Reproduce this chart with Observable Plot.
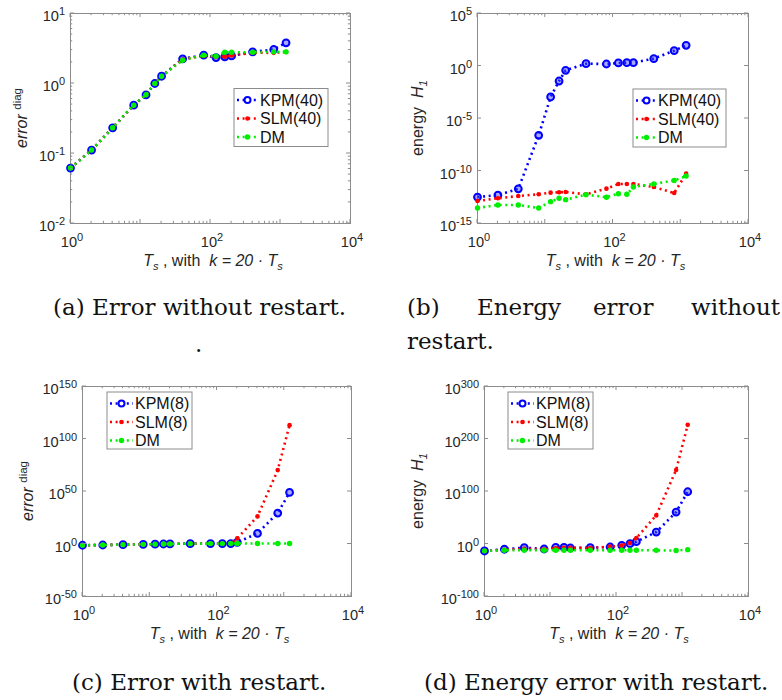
<!DOCTYPE html>
<html><head><meta charset="utf-8">
<script src="https://cdn.jsdelivr.net/npm/d3@7"></script>
<script src="https://cdn.jsdelivr.net/npm/@observablehq/plot@0.6"></script>
<style>
body{margin:0;background:#fff;}
#root{position:relative;width:782px;height:700px;overflow:hidden;background:#fff;}
#root svg{position:absolute;}
</style></head><body><div id="root"></div>
<script>
// ---- data ----
const Ts = [1, 2, 4, 8, 12, 16, 20, 40, 80, 120, 160, 200, 400, 800, 1200];

// (a) error^diag, no restart (values)
const kpmA = [0.062, 0.112, 0.233, 0.49, 0.69, 1.0, 1.27, 2.25, 2.54, 2.35, 2.4, 2.48, 2.83, 3.06, 3.81];
const slmA = [0.062, 0.112, 0.233, 0.49, 0.69, 1.0, 1.27, 2.2, 2.5, 2.4, 2.42, 2.52, 2.75, 2.74, 2.83];
const dmA  = [0.062, 0.112, 0.233, 0.49, 0.69, 1.0, 1.27, 2.15, 2.54, 2.46, 2.8, 2.8, 2.8, 2.83, 2.83];

// (b) energy H1, no restart (log10 of values)
const kpmB = [-12.48, -12.3, -11.7, -6.6, -2.95, -1.43, -0.41, 0.22, 0.19, 0.29, 0.32, 0.32, 0.70, 1.46, 1.97];
const slmB = [-12.86, -12.6, -12.38, -12.22, -12.06, -12.03, -12.0, -12.22, -11.68, -11.24, -11.24, -11.24, -11.52, -12.1, -10.25];
const dmB  = [-13.52, -13.24, -13.24, -13.52, -12.92, -12.6, -12.73, -12.25, -12.5, -12.16, -12.22, -11.52, -11.24, -10.9, -10.48];

// (c) error^diag, restart (log10 of values)
const kpmC = [-1.2, -0.95, -0.63, -0.31, -0.16, 0, 0.1, 0.35, 0.4, 0.37, 0.38, 1.6, 10.1, 29.5, 49.1];
const slmC = [-1.2, -0.95, -0.63, -0.31, -0.16, 0, 0.1, 0.35, 0.4, 0.4, 0.6, 5.4, 26.3, 70.4, 113.2];
const dmC  = [-1.2, -0.95, -0.63, -0.31, -0.16, 0, 0.1, 0.33, 0.4, 0.39, 0.45, 0.45, 0.45, 0.45, 0.45];

// (d) energy H1, restart (log10 of values)
const kpmD = [-13.3, -10, -7, -9.5, -6.3, -6.3, -7.6, -7, -5.7, -2.5, 0.6, 4.4, 22.8, 60.9, 99.5];
const slmD = [-13, -11, -9, -10, -8, -7, -7, -7.6, -5, -3, 2, 11.4, 54.5, 141, 227];
const dmD  = [-13, -12, -12, -12, -12, -12, -12, -12, -12, -12, -12, -12, -12, -12.5, -10.8];

const xTicks  = [1, 100, 10000];
const yTicksA = [1e-2, 1e-1, 1e0, 1e1];
const yTicksB = [1e-15, 1e-10, 1e-5, 1e0, 1e5];
const yTicksC = [1e-50, 1e0, 1e50, 1e100, 1e150];
const yTicksD = [1e-100, 1e0, 1e100, 1e200, 1e300];

const namesTop = ["KPM(40)", "SLM(40)", "DM"];
const namesBottom = ["KPM(8)", "SLM(8)", "DM"];

// ---- styles ----
const BLUE = "#0000ff", RED = "#ff0000", GREEN = "#00ee00";
const FRAME = "#8c8c8c", TXT = "#262626";
const styles = [
  {color: BLUE, r: 3.4, fill: "rgba(60,60,255,0.45)", stroke: BLUE, sw: 2},
  {color: RED, r: 2.3, fill: RED, stroke: "none", sw: 0},
  {color: GREEN, r: 2.7, fill: GREEN, stroke: "none", sw: 0}
];
const DASH = "2,3.6", LW = 2.6;

const pow = arr => arr.map(e => Math.pow(10, e));
const expo = d => String(Math.round(Math.log10(d)));

const root = document.getElementById("root");

function powLabel(sel, x, y, anchor, v) {
  const t = sel.append("text").attr("x", x).attr("y", y).attr("text-anchor", anchor)
    .attr("font-family", "Liberation Sans").attr("font-size", 14.6).attr("fill", TXT);
  t.append("tspan").text("10");
  t.append("tspan").attr("dy", -6).attr("font-size", 11).text(expo(v));
}

function build(spec) {
  const {left, top, w, h, ml, mr, mt, mb, yDomain, yTicks, values, names, yMinor, legend, ylab, xlabY} = spec;
  const marks = [Plot.frame({stroke: FRAME, strokeWidth: 1})];
  values.forEach((vals, k) => {
    const st = styles[k];
    const d = Ts.map((t, i) => ({t, v: vals[i]}));
    marks.push(Plot.line(d, {x: "t", y: "v", stroke: st.color, strokeWidth: LW, strokeDasharray: DASH, strokeLinecap: "butt"}));
    marks.push(Plot.dot(d, {x: "t", y: "v", r: st.r, fill: st.fill, stroke: st.stroke, strokeWidth: st.sw}));
  });
  const svg = Plot.plot({
    width: w, height: h, marginLeft: ml, marginRight: mr, marginTop: mt, marginBottom: mb,
    x: {type: "log", domain: [1, 1e4], axis: null},
    y: {type: "log", domain: yDomain, axis: null},
    style: {fontFamily: "Liberation Sans", color: TXT, background: "transparent", overflow: "visible"},
    marks
  });
  svg.style.left = left + "px";
  svg.style.top = top + "px";
  const sx = svg.scale("x"), sy = svg.scale("y");
  const S = d3.select(svg);
  const [xL, xR] = sx.range, [yB, yT] = sy.range;

  // tick labels (positions from Plot's scales)
  const lab = S.append("g");
  xTicks.forEach(v => powLabel(lab, sx.apply(v) + 2, yB + 24, "middle", v));
  yTicks.forEach(v => powLabel(lab, xL - 5, sy.apply(v) + 8, "end", v));

  // inward ticks
  const tg = S.append("g").attr("stroke", FRAME).attr("stroke-width", 1).attr("fill", "none");
  const xs = [];
  for (let e = 0; e < 4; e++) for (let k = 1; k < 10; k++) xs.push([k * Math.pow(10, e), k === 1]);
  xs.push([1e4, true]);
  for (const [v, major] of xs) {
    const X = sx.apply(v), L = major ? 4 : 2.2;
    tg.append("line").attr("x1", X).attr("x2", X).attr("y1", yB).attr("y2", yB - L);
    tg.append("line").attr("x1", X).attr("x2", X).attr("y1", yT).attr("y2", yT + L);
  }
  const ys = yTicks.map(v => [v, true]);
  if (yMinor) for (let e = -2; e < 1; e++) for (let k = 2; k < 10; k++) ys.push([k * Math.pow(10, e), false]);
  for (const [v, major] of ys) {
    const Y = sy.apply(v), L = major ? 4 : 2.2;
    tg.append("line").attr("y1", Y).attr("y2", Y).attr("x1", xL).attr("x2", xL + L);
    tg.append("line").attr("y1", Y).attr("y2", Y).attr("x1", xR).attr("x2", xR - L);
  }

  // x label
  const xl = S.append("text").attr("x", (xL + xR) / 2 + 3).attr("y", xlabY).attr("text-anchor", "middle")
    .attr("font-family", "Liberation Sans").attr("font-size", 16).attr("fill", TXT).style("white-space", "pre");
  xl.append("tspan").attr("font-style", "italic").text("T");
  xl.append("tspan").attr("font-style", "italic").attr("font-size", 11).attr("dy", 4).text("s");
  xl.append("tspan").attr("dy", -4).text(" , with  ");
  xl.append("tspan").attr("font-style", "italic").text("k = 20 · T");
  xl.append("tspan").attr("font-style", "italic").attr("font-size", 11).attr("dy", 4).text("s");

  // y label
  const yl = S.append("text").attr("transform", `translate(${ylab.x},${(yB + yT) / 2}) rotate(-90)`)
    .attr("text-anchor", "middle").attr("font-family", "Liberation Sans").attr("font-size", 16)
    .attr("fill", TXT).style("white-space", "pre");
  if (ylab.kind === "err") {
    yl.append("tspan").attr("font-style", "italic").text("error ");
    yl.append("tspan").attr("font-size", 11.5).attr("dy", -6).text("diag");
  } else {
    yl.append("tspan").text("energy  ");
    yl.append("tspan").attr("font-style", "italic").text("H");
    yl.append("tspan").attr("font-style", "italic").attr("font-size", 11.5).attr("dy", 4).text("1");
  }

  // legend
  const lg = S.append("g");
  lg.append("rect").attr("x", legend.x).attr("y", legend.y).attr("width", legend.w).attr("height", legend.h)
    .attr("fill", "#fff").attr("stroke", FRAME).attr("stroke-width", 1);
  names.forEach((nm, k) => {
    const st = styles[k];
    const cy = legend.y + 11.5 + k * 18.5;
    lg.append("line").attr("x1", legend.x + 3).attr("x2", legend.x + 3 + legend.ls).attr("y1", cy).attr("y2", cy)
      .attr("stroke", st.color).attr("stroke-width", LW).attr("stroke-dasharray", DASH);
    lg.append("circle").attr("cx", legend.x + 3 + legend.ls / 2).attr("cy", cy).attr("r", k === 0 ? 3 : st.r)
      .attr("fill", k === 0 ? "#fff" : st.fill).attr("stroke", st.stroke).attr("stroke-width", st.sw);
    lg.append("text").attr("x", legend.tx).attr("y", cy + 5.5).attr("text-anchor", "start")
      .attr("font-family", "Liberation Sans").attr("font-size", 16).attr("fill", "#111").text(nm);
  });
  root.appendChild(svg);
}

build({left: 0, top: 0, w: 391, h: 280, ml: 70, mr: 41, mt: 13, mb: 57,
  yDomain: [1e-2, 1e1], yTicks: yTicksA, values: [kpmA, slmA, dmA], names: namesTop, yMinor: true,
  legend: {x: 234, y: 88.5, w: 94, h: 58, ls: 21, tx: 260}, ylab: {x: 27, kind: "err"}, xlabY: 266});
build({left: 391, top: 0, w: 391, h: 280, ml: 86, mr: 34, mt: 13, mb: 57,
  yDomain: [1e-15, 1e5], yTicks: yTicksB, values: [pow(kpmB), pow(slmB), pow(dmB)], names: namesTop, yMinor: false,
  legend: {x: 242, y: 89, w: 93, h: 58, ls: 21, tx: 267}, ylab: {x: 32, kind: "en"}, xlabY: 266});
build({left: 0, top: 370, w: 391, h: 290, ml: 82, mr: 40, mt: 16, mb: 64,
  yDomain: [1e-50, 1e150], yTicks: yTicksC, values: [pow(kpmC), pow(slmC), pow(dmC)], names: namesBottom, yMinor: false,
  legend: {x: 107, y: 22, w: 85, h: 57, ls: 23, tx: 135}, ylab: {x: 33, kind: "err"}, xlabY: 269});
build({left: 391, top: 370, w: 391, h: 290, ml: 93, mr: 34, mt: 16, mb: 64,
  yDomain: [1e-100, 1e300], yTicks: yTicksD, values: [pow(kpmD), pow(slmD), pow(dmD)], names: namesBottom, yMinor: false,
  legend: {x: 117, y: 22, w: 85, h: 57, ls: 23, tx: 145}, ylab: {x: 32, kind: "en"}, xlabY: 269});

// ---- captions ----
const cap = d3.create("svg").attr("width", 782).attr("height", 700).style("left", "0px").style("top", "0px")
  .style("pointer-events", "none");
const capWords = [
  {x: 53, y: 315, t: "(a) Error without restart."},
  {x: 195, y: 352, t: "."},
  {x: 407, y: 315, t: "(b)"},
  {x: 477, y: 315, t: "Energy"},
  {x: 593, y: 315, t: "error"},
  {x: 780, y: 315, t: "without", anchor: "end"},
  {x: 407, y: 349, t: "restart."},
  {x: 72, y: 690, t: "(c) Error with restart."},
  {x: 424, y: 690, t: "(d) Energy error with restart."}
];
capWords.forEach(c => {
  cap.append("text").attr("x", c.x).attr("y", c.y).attr("text-anchor", c.anchor || "start")
    .attr("font-family", "DejaVu Serif").attr("font-size", 23).attr("fill", "#111").text(c.t);
});
root.appendChild(cap.node());
</script>
</body></html>
